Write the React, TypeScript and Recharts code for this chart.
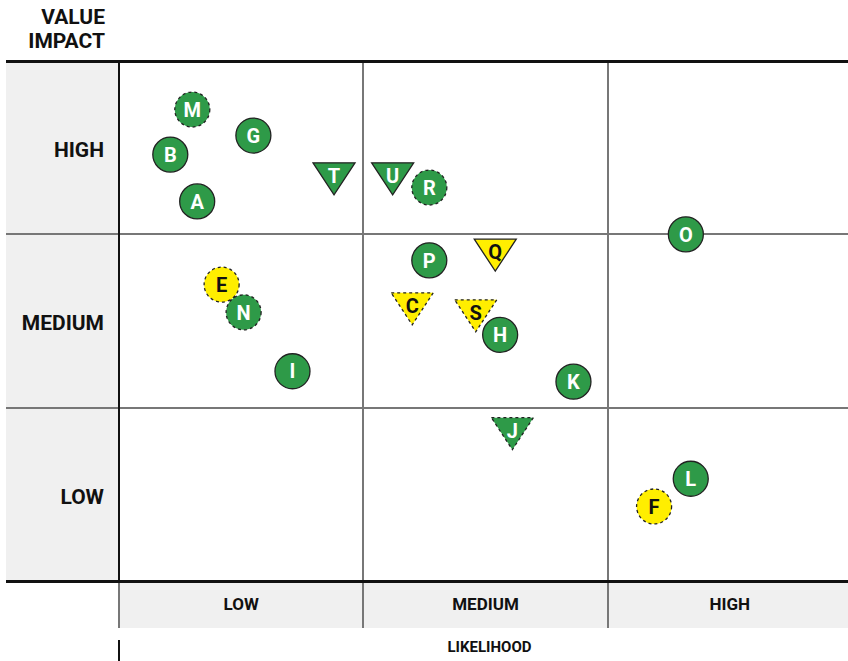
import React, { useLayoutEffect } from "react";
import { ScatterChart, Scatter, XAxis, YAxis } from "recharts";

// risk items
const ids = ["A", "B", "C", "E", "F", "G", "H", "I", "J", "K", "L", "M", "N", "O", "P", "Q", "R", "S", "T", "U"];
const likelihood = [0.32, 0.21, 1.2, 0.42, 2.19, 0.55, 1.56, 0.71, 1.61, 1.86, 2.34, 0.3, 0.51, 2.32, 1.27, 1.54, 1.27, 1.46, 0.88, 1.12];
const impact = [2.19, 2.46, 1.57, 1.71, 0.43, 2.57, 1.42, 1.21, 0.85, 1.15, 0.59, 2.72, 1.55, 2.0, 1.85, 1.88, 2.27, 1.53, 2.32, 2.32];
const status = ["green", "green", "yellow", "yellow", "yellow", "green", "green", "green", "green", "green", "green", "green", "green", "green", "green", "yellow", "green", "yellow", "green", "green"];
const uncertain = [false, false, true, true, true, false, false, false, true, false, false, true, true, false, false, false, true, true, false, false];
const kind = ["circle", "circle", "triangle", "circle", "circle", "circle", "circle", "circle", "triangle", "circle", "circle", "circle", "circle", "circle", "circle", "triangle", "circle", "triangle", "triangle", "triangle"];

const levels = ["LOW", "MEDIUM", "HIGH"];
const levelTicks = [0.5, 1.5, 2.5];

const data = ids.map((id, i) => ({
  id,
  x: likelihood[i],
  y: impact[i],
  status: status[i],
  uncertain: uncertain[i],
  kind: kind[i],
}));

const W = 848;
const H = 661;
const PLOT_LEFT = 119;
const PLOT_TOP = 61;
const PLOT_RIGHT = 852;
const PLOT_BOTTOM = 581;
const COL_W = (PLOT_RIGHT - PLOT_LEFT) / 3;
const ROW_H = (PLOT_BOTTOM - PLOT_TOP) / 3;

const GREEN = "#2e9a48";
const YELLOW = "#ffee00";
const BAND = "#f0f0f0";
const GRID = "#777777";
const FONT = "Roboto, sans-serif";

const Marker = (props: any) => {
  const { cx, cy, payload } = props;
  if (cx == null || cy == null) return null;
  const fill = payload.status === "yellow" ? YELLOW : GREEN;
  const textFill = payload.status === "yellow" ? "#111" : "#fff";
  const dash = payload.uncertain ? "3 3" : undefined;
  if (payload.kind === "triangle") {
    const pts = `${cx - 21},${cy - 16} ${cx + 21},${cy - 16} ${cx},${cy + 16}`;
    return (
      <g>
        <polygon points={pts} fill={fill} stroke="#222" strokeWidth={1.3} strokeDasharray={dash} />
        <text x={cx} y={cy - 3} dy="0.36em" textAnchor="middle" fontFamily={FONT} fontWeight={700} fontSize={20} fill={textFill}>
          {payload.id}
        </text>
      </g>
    );
  }
  return (
    <g>
      <circle cx={cx} cy={cy} r={17.5} fill={fill} stroke="#222" strokeWidth={1.3} strokeDasharray={dash} />
      <text x={cx} y={cy} dy="0.36em" textAnchor="middle" fontFamily={FONT} fontWeight={700} fontSize={20} fill={textFill}>
        {payload.id}
      </text>
    </g>
  );
};

const box = (left: number, top: number, width: number, height: number, bg: string): React.CSSProperties => ({
  position: "absolute",
  left,
  top,
  width,
  height,
  background: bg,
});

export default function App() {
  useLayoutEffect(() => {
    document.body.style.margin = "0";
  }, []);

  return (
    <div style={{ position: "relative", width: W, height: H, overflow: "hidden" }}>
      {/* frame */}
      <div style={box(6, PLOT_TOP, PLOT_LEFT - 6, PLOT_BOTTOM - PLOT_TOP, BAND)} />
      <div style={box(PLOT_LEFT, PLOT_BOTTOM, PLOT_RIGHT - PLOT_LEFT, 47, BAND)} />
      {[1, 2].map((i) => (
        <div key={"h" + i} style={box(6, PLOT_TOP + ROW_H * i - 1, W - 6, 2, GRID)} />
      ))}
      {[1, 2].map((i) => (
        <div key={"v" + i} style={box(PLOT_LEFT + COL_W * i - 1, PLOT_TOP, 2, PLOT_BOTTOM + 47 - PLOT_TOP, GRID)} />
      ))}
      <div style={box(PLOT_LEFT - 1, PLOT_BOTTOM, 2, 47, GRID)} />
      <div style={box(PLOT_LEFT - 1, PLOT_TOP, 2, PLOT_BOTTOM - PLOT_TOP, "#111")} />
      <div style={box(PLOT_LEFT - 1, 640, 1.5, 21, "#111")} />
      <div style={box(6, PLOT_TOP - 1, W - 6, 2.5, "#111")} />
      <div style={box(6, PLOT_BOTTOM - 1, W - 6, 2.5, "#111")} />
      <div
        style={{
          position: "absolute",
          right: W - 105,
          top: 5,
          textAlign: "right",
          fontFamily: FONT,
          fontWeight: 700,
          fontSize: 21,
          lineHeight: "24px",
          color: "#111",
        }}
      >
        VALUE
        <br />
        IMPACT
      </div>

      <div style={{ position: "absolute", left: 0, top: 0 }}>
        <ScatterChart width={W} height={H} margin={{ top: PLOT_TOP, right: W - PLOT_RIGHT, left: 6, bottom: 0 }}>
          <XAxis
            type="number"
            dataKey="x"
            domain={[0, 3]}
            ticks={levelTicks}
            tickFormatter={(v: number) => levels[Math.floor(v)]}
            axisLine={false}
            tickLine={false}
            tickSize={8}
            tickMargin={9}
            height={H - PLOT_BOTTOM}
            tick={{ fontFamily: FONT, fontWeight: 700, fontSize: 17, fill: "#111" }}
            label={{
              value: "LIKELIHOOD",
              position: "insideBottom",
              offset: 9,
              dx: 4,
              style: { fontFamily: FONT, fontWeight: 700, fontSize: 15, fill: "#111" },
            }}
          />
          <YAxis
            type="number"
            dataKey="y"
            domain={[0, 3]}
            ticks={levelTicks}
            tickFormatter={(v: number) => levels[Math.floor(v)]}
            axisLine={false}
            tickLine={false}
            tickSize={8}
            tickMargin={7}
            width={PLOT_LEFT - 6}
            tick={{ fontFamily: FONT, fontWeight: 700, fontSize: 21, fill: "#111", dy: 2 }}
          />
          <Scatter data={data} shape={<Marker />} isAnimationActive={false} />
        </ScatterChart>
      </div>
    </div>
  );
}
